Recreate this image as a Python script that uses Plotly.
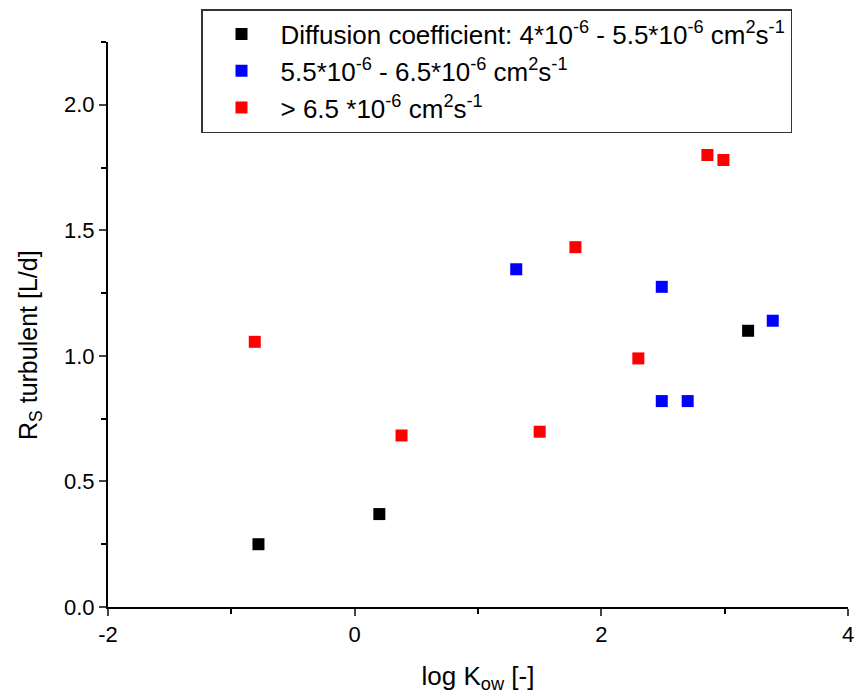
import plotly.graph_objects as go

# Data
black_x = [-0.78, 0.20, 3.19]
black_y = [0.25, 0.37, 1.10]
blue_x = [1.31, 2.49, 3.39, 2.49, 2.70]
blue_y = [1.345, 1.275, 1.14, 0.82, 0.82]
red_x = [-0.81, 0.38, 1.50, 1.79, 2.30, 2.86, 2.99]
red_y = [1.056, 0.683, 0.698, 1.433, 0.99, 1.80, 1.78]

x_ticks = [-2, 0, 2, 4]
x_ticklabels = ["-2", "0", "2", "4"]
y_ticks = [0, 0.5, 1.0, 1.5, 2.0]
y_ticklabels = ["0.0", "0.5", "1.0", "1.5", "2.0"]

names = [
    "Diffusion coefficient: 4*10<sup>-6</sup> - 5.5*10<sup>-6</sup> cm<sup>2</sup>s<sup>-1</sup>",
    "5.5*10<sup>-6</sup> - 6.5*10<sup>-6</sup> cm<sup>2</sup>s<sup>-1</sup>",
    "> 6.5 *10<sup>-6</sup> cm<sup>2</sup>s<sup>-1</sup>",
]

font = "Liberation Sans, Arial, sans-serif"
fig = go.Figure()
for i, (xs, ys, c) in enumerate([(black_x, black_y, "black"), (blue_x, blue_y, "#0000ff"), (red_x, red_y, "#ff0000")]):
    fig.add_trace(go.Scatter(x=xs, y=ys, mode="markers", name=names[i], legendgroup=str(i),
                             marker=dict(symbol="square", size=12, color=c, line=dict(width=0))))

fig.update_layout(
    width=864, height=696,
    paper_bgcolor="white", plot_bgcolor="white",
    margin=dict(l=108, r=16, t=42, b=89, autoexpand=False),
    font=dict(family=font, color="black", size=22),
    showlegend=True,
    legend=dict(x=(201 - 108) / 740, y=1 + (42 - 9) / 565, xanchor="left", yanchor="top",
                bgcolor="white", bordercolor="#333333", borderwidth=1.5,
                font=dict(size=26, family=font), tracegroupgap=0, itemsizing="constant",
                itemwidth=68),
    annotations=[dict(text="R<sub>S</sub> turbulent [L/d]", textangle=-90, xref="paper", yref="paper",
                      x=(30 - 108) / 740, y=(607 - 345) / 565, xanchor="center", yanchor="middle",
                      showarrow=False, font=dict(size=25, family=font, color="black"))],
)
fig.update_xaxes(range=[-2, 4], tickvals=x_ticks, ticktext=x_ticklabels, ticks="outside", ticklen=7, tickwidth=2,
                 showline=True, linecolor="black", linewidth=2, showgrid=False, zeroline=False, automargin=False,
                 minor=dict(tickvals=[-1, 1, 3], ticks="outside", ticklen=5, tickwidth=2, tickcolor="black"),
                 tickfont=dict(size=22), title=dict(text="log K<sub>ow</sub> [-]", font=dict(size=26), standoff=20))
fig.update_yaxes(range=[0, 2.25], tickvals=y_ticks, ticktext=y_ticklabels,
                 ticks="outside", ticklen=7, tickwidth=2,
                 showline=True, linecolor="black", linewidth=2, showgrid=False, zeroline=False, automargin=False,
                 minor=dict(tickvals=[0.25, 0.75, 1.25, 1.75, 2.25], ticks="outside", ticklen=5, tickwidth=2, tickcolor="black"),
                 tickfont=dict(size=22))

fig.write_html("out.html", config={"displayModeBar": False},
               post_script="document.body.style.margin='0';")
